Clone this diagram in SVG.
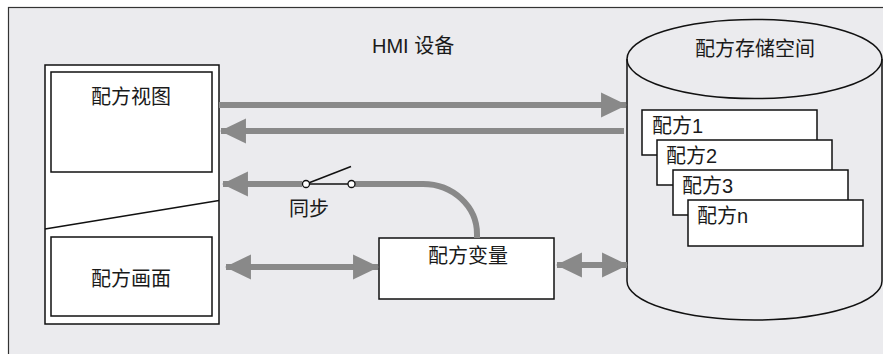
<svg xmlns="http://www.w3.org/2000/svg" width="883" height="354" viewBox="0 0 883 354">
  <style>
    text { font-family: "Liberation Sans", "Noto Sans CJK SC", sans-serif; font-size: 20px; fill: #1a1a1a; }
    .box { fill: #ffffff; stroke: #111111; stroke-width: 1.5; }
    .line { fill: none; stroke: #111111; stroke-width: 1.5; }
    .conn { fill: none; stroke: #898989; stroke-width: 6; }
  </style>
  <defs>
    <marker id="ah" markerUnits="userSpaceOnUse" markerWidth="26" markerHeight="26" viewBox="0 0 25 24" refX="24" refY="12" orient="auto-start-reverse">
      <path d="M0,0 L25,12 L0,24 z" fill="#898989"/>
    </marker>
  </defs>

  <rect x="0" y="0" width="883" height="354" fill="#ffffff"/>
  <rect id="frame" x="8.5" y="7.5" width="900" height="400" fill="#ebebee" stroke="#333333" stroke-width="1.2"/>

  <text id="hmi-label" x="372" y="53">HMI 设备</text>

  <g id="hmi-panel">
    <rect class="box" x="45" y="65" width="174" height="259"/>
    <line class="line" x1="45" y1="229" x2="219" y2="200.5"/>
  </g>
  <g id="recipe-view">
    <rect class="box" x="51" y="72" width="161" height="100"/>
    <text x="91" y="104">配方视图</text>
  </g>
  <g id="recipe-screen">
    <rect class="box" x="51" y="237" width="161" height="79"/>
    <text x="91" y="285.5">配方画面</text>
  </g>

  <g id="recipe-storage">
    <path class="line" d="M627,59 L627,281 A127.5,39 0 0 0 882,281 L882,59"/>
    <ellipse class="line" cx="754.5" cy="59" rx="127.5" ry="39.5"/>
    <text x="755" y="56" text-anchor="middle">配方存储空间</text>
  </g>
  <g id="recipe-1">
    <rect class="box" x="642" y="110" width="175" height="45"/>
    <text x="652" y="133">配方1</text>
  </g>
  <g id="recipe-2">
    <rect class="box" x="657" y="140" width="175" height="45"/>
    <text x="666" y="163">配方2</text>
  </g>
  <g id="recipe-3">
    <rect class="box" x="673" y="170" width="175" height="45"/>
    <text x="682" y="193">配方3</text>
  </g>
  <g id="recipe-n">
    <rect class="box" x="688" y="200" width="175" height="46"/>
    <text x="697" y="223">配方n</text>
  </g>

  <g id="recipe-variable">
    <rect class="box" x="379" y="238" width="175" height="61"/>
    <text x="468" y="262.5" text-anchor="middle">配方变量</text>
  </g>

  <g id="connectors">
    <line class="conn" x1="219" y1="105" x2="626" y2="105" marker-end="url(#ah)"/>
    <line class="conn" x1="624" y1="131" x2="221" y2="131" marker-end="url(#ah)"/>
    <path class="conn" d="M477,238 L477,234 A54,50 0 0 0 423,184 L355,184"/>
    <line class="conn" x1="302" y1="184" x2="223" y2="184" marker-end="url(#ah)"/>
    <line class="conn" x1="226" y1="267" x2="378" y2="267" marker-start="url(#ah)" marker-end="url(#ah)"/>
    <line class="conn" x1="557" y1="265" x2="627" y2="265" marker-start="url(#ah)" marker-end="url(#ah)"/>
  </g>

  <g id="sync-switch">
    <line class="line" x1="306" y1="184" x2="351" y2="184"/>
    <line class="line" x1="306" y1="184" x2="351" y2="166.5"/>
    <circle cx="306" cy="184" r="3.5" fill="#ffffff" stroke="#111111" stroke-width="1.3"/>
    <circle cx="351.5" cy="184" r="3.5" fill="#ffffff" stroke="#111111" stroke-width="1.3"/>
    <text x="289" y="215.5">同步</text>
  </g>
</svg>
